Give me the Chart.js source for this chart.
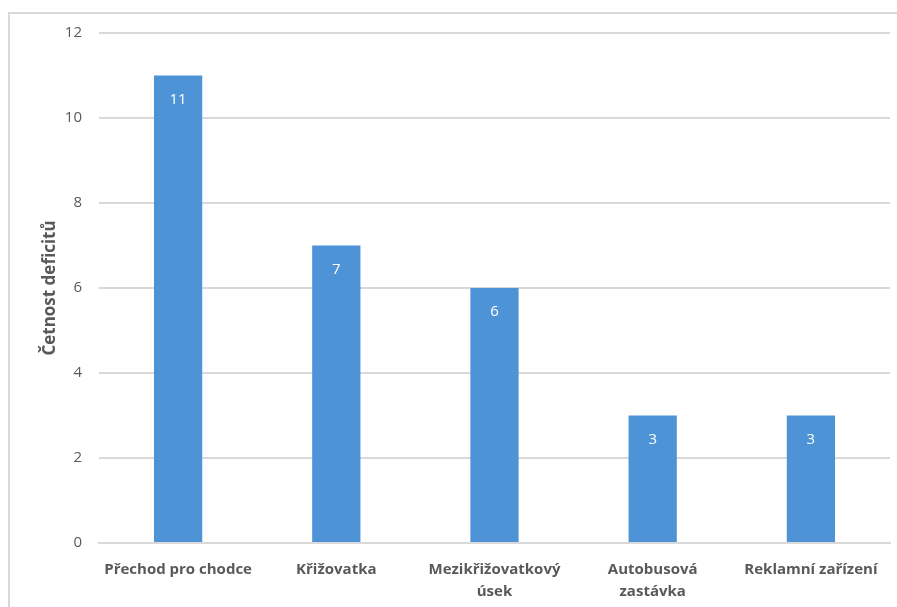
<!DOCTYPE html>
<html>
<head>
<meta charset="utf-8">
<script src="https://cdn.jsdelivr.net/npm/chart.js@4"></script>
<style>
  html, body { margin: 0; padding: 0; background: #fff; overflow: hidden; }
  #frame { position: absolute; left: 8px; top: 12px; width: 900px; height: 610px; border: 2px solid #d9d9d9; box-sizing: border-box; }
  #wrap { position: absolute; left: 0; top: 0; width: 897px; height: 607px; }
</style>
</head>
<body>
<div id="frame"></div>
<div id="wrap"><canvas id="deficity"></canvas></div>
<script>
var kategorie = ["Přechod pro chodce", "Křižovatka", ["Mezikřižovatkový", "úsek"], ["Autobusová", "zastávka"], "Reklamní zařízení"];
var cetnost = [11, 7, 6, 3, 3];
var osaY = { min: 0, max: 12, krok: 2 };

var font = "'Open Sans', sans-serif";
var seda = "#595959";

// hodnoty bílým písmem uvnitř sloupců
var popisky = {
	id: 'popisky',
	afterDatasetsDraw: function(chart) {
		var ctx = chart.ctx;
		var meta = chart.getDatasetMeta(0);
		ctx.save();
		ctx.fillStyle = "#fff";
		ctx.font = "15px " + font;
		ctx.textAlign = "center";
		ctx.textBaseline = "middle";
		meta.data.forEach(function(bar, i) {
			ctx.fillText(chart.data.datasets[0].data[i], bar.x, bar.y + 24);
		});
		ctx.restore();
	}
};

var ctx = document.getElementById("deficity");
var graf = new Chart(ctx, {
	type: 'bar',
	data: {
		labels: kategorie,
		datasets: [{
			label: "Četnost deficitů",
			data: cetnost,
			backgroundColor: "#4d93d6",
			categoryPercentage: 1,
			barPercentage: 0.305
		}]
	},
	options: {
		responsive: true,
		maintainAspectRatio: false,
		animation: false,
		layout: { padding: { top: 33, right: 7, left: 0, bottom: 0 } },
		plugins: {
			legend: { display: false },
			tooltip: { enabled: false }
		},
		scales: {
			x: {
				grid: { display: false, drawTicks: false },
				border: { display: true, color: "#d9d9d9", width: 2 },
				ticks: { color: seda, font: { family: font, size: 15, weight: 'bold', lineHeight: 1.47 }, padding: 16, maxRotation: 0, autoSkip: false },
				afterFit: function(scale) { scale.height = 64; }
			},
			y: {
				min: osaY.min,
				max: osaY.max,
				grid: { color: "#d9d9d9", lineWidth: 2, drawTicks: false },
				border: { display: false },
				ticks: { stepSize: osaY.krok, color: seda, font: { family: font, size: 15 }, padding: 17 },
				title: { display: true, text: "Četnost deficitů", color: seda, font: { family: font, size: 17, weight: 'bold' }, padding: { top: 40, bottom: 5 } },
				afterFit: function(scale) { scale.width = 99; }
			}
		}
	},
	plugins: [popisky]
});
</script>
</body>
</html>
